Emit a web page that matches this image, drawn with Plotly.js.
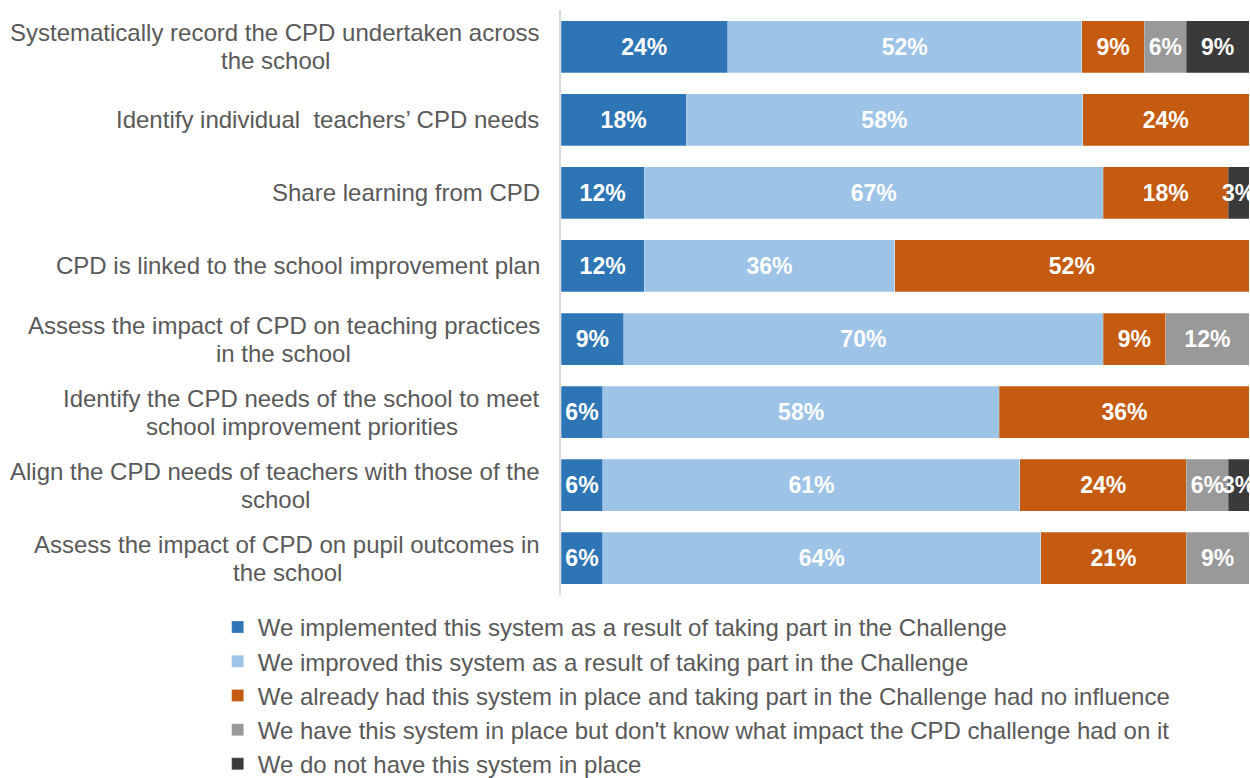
<!DOCTYPE html>
<html>
<head>
<meta charset="utf-8">
<script src="https://cdn.plot.ly/plotly-3.0.1.min.js"></script>
<style>html,body{margin:0;padding:0;background:#fff;}#chart{width:1250px;height:778px;}</style>
</head>
<body>
<div id="chart"></div>
<script>
const categories = [
  "Systematically record the CPD undertaken across<br>the school",
  "Identify individual  teachers’ CPD needs",
  "Share learning from CPD",
  "CPD is linked to the school improvement plan",
  "Assess the impact of CPD on teaching practices<br>in the school",
  "Identify the CPD needs of the school to meet<br>school improvement priorities",
  "Align the CPD needs of teachers with those of the<br>school",
  "Assess the impact of CPD on pupil outcomes in<br>the school"
];
const seriesNames = [
  "We implemented this system as a result of taking part in the Challenge",
  "We improved this system as a result of taking part in the Challenge",
  "We already had this system in place and taking part in the Challenge had no influence",
  "We have this system in place but don't know what impact the CPD challenge had on it",
  "We do not have this system in place"
];
const implemented = [24.2, 18.2, 12.1, 12.1, 9.1, 6.1, 6.1, 6.1];
const improved    = [51.5, 57.6, 66.7, 36.4, 69.7, 57.6, 60.6, 63.6];
const already     = [9.1, 24.2, 18.2, 51.5, 9.1, 36.4, 24.2, 21.2];
const dontKnow    = [6.1, 0, 0, 0, 12.1, 0, 6.1, 9.1];
const notInPlace  = [9.1, 0, 3.0, 0, 0, 0, 3.0, 0];
const colors = ["#2E75B6", "#9DC3E6", "#C55A11", "#999999", "#3A3A3A"];

const FONT = "Liberation Sans, Arial, sans-serif";
const allSeries = [implemented, improved, already, dontKnow, notInPlace];
const traces = allSeries.map((vals, i) => ({
  type: "bar",
  orientation: "h",
  name: seriesNames[i],
  legendgroup: "g" + i,
  y: categories,
  x: vals,
  text: vals.map(v => v > 0 ? Math.round(v) + "%" : ""),
  textposition: "inside",
  insidetextanchor: "middle",
  textangle: 0,
  constraintext: "none",
  textfont: {family: FONT, size: 23, color: "#FFFFFF", weight: "bold"},
  marker: {color: colors[i], line: {color: "rgba(255,255,255,0.5)", width: 0.5}},
  hoverinfo: "none"
}));

// Category labels: each line is its own annotation (28px line spacing), lines centred on each other
const ctx = document.createElement("canvas").getContext("2d");
ctx.font = "24px 'Liberation Sans', Arial, sans-serif";
const annotations = [];
categories.forEach(c => {
  const lines = c.split("<br>");
  const n = lines.length;
  const w = Math.max(...lines.map(l => ctx.measureText(l).width));
  lines.forEach((ln, k) => {
    annotations.push({
      xref: "paper", yref: "y", x: 0, y: c,
      xanchor: "center", yanchor: "middle", xshift: -21 - w / 2,
      yshift: ((n - 1) / 2 - k) * 28,
      text: ln, showarrow: false, align: "center",
      font: {family: FONT, size: 24, color: "#595959"}
    });
  });
});

const layout = {
  width: 1250, height: 778,
  margin: {l: 561, r: 1, t: 10, b: 183, autoexpand: false},
  barmode: "stack",
  bargap: 0.29,
  paper_bgcolor: "#FFFFFF",
  plot_bgcolor: "#FFFFFF",
  showlegend: true,
  legend: {
    orientation: "v", traceorder: "normal",
    x: -0.499, xanchor: "left", y: -0.017, yanchor: "top",
    font: {family: FONT, size: 24, color: "#595959"},
    tracegroupgap: 3.4, bgcolor: "rgba(0,0,0,0)"
  },
  xaxis: {range: [0, 100], showticklabels: false, showgrid: false, zeroline: false, showline: false, ticks: ""},
  yaxis: {categoryorder: "array", categoryarray: categories, autorange: "reversed",
          showticklabels: false, showgrid: false, zeroline: false,
          showline: true, linecolor: "#D9D9D9", linewidth: 2, ticks: ""},
  annotations: annotations
};

Plotly.newPlot("chart", traces, layout, {displayModeBar: false, staticPlot: true});
</script>
</body>
</html>
